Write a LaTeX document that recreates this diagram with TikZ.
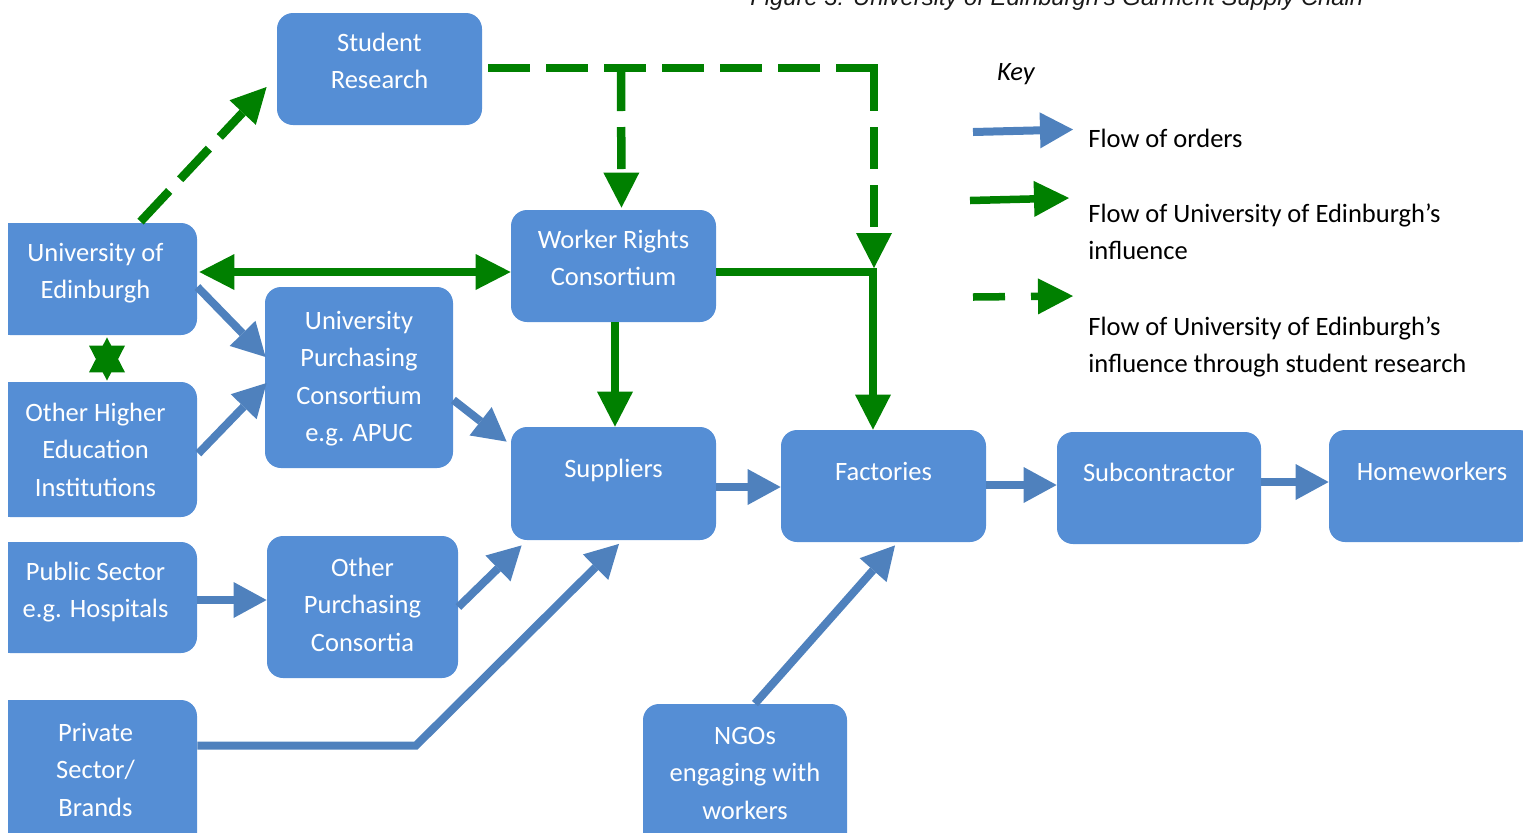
\documentclass[tikz,border=0pt]{standalone}
\usepackage{fontspec}
\setmainfont{Carlito}
\newfontfamily\capfont{Liberation Sans}
\usetikzlibrary{arrows.meta,calc}
\definecolor{boxblue}{HTML}{558ED5}
\definecolor{arrblue}{HTML}{4F81BD}
\definecolor{infgreen}{HTML}{008000}
\newcommand{\mlc}[1]{\begin{tabular}[t]{@{}c@{}}#1\end{tabular}}
\newcommand{\mll}[1]{\begin{tabular}[t]{@{}l@{}}#1\end{tabular}}
\begin{document}
\begin{tikzpicture}[x=0.5pt,y=-0.5pt,
  btip/.tip={Triangle[length=16.5pt,width=18pt,line width=0pt]},
  gtip/.tip={Triangle[length=17.5pt,width=18pt,line width=0pt]},
  box/.style={fill=boxblue, draw=none, rounded corners=8pt, inner sep=0pt},
  lbl/.style={text=white, font=\fontsize{13.25pt}{18.75pt}\selectfont, anchor=base, inner sep=0pt},
  keytxt/.style={text=black, font=\fontsize{13.25pt}{18.75pt}\selectfont, anchor=base west, inner sep=0pt},
  ord/.style={draw=arrblue, line width=4pt, -btip},
  infl/.style={draw=infgreen, line width=3.75pt, -gtip},
  studline/.style={draw=infgreen, line width=4.25pt, dash pattern=on 21pt off 8pt},
  stud/.style={studline, -gtip}]
\useasboundingbox (0,0) rectangle (1523,832);
\clip (8,0) rectangle (1523,832);

% caption
\node[font=\capfont\itshape\fontsize{11.9pt}{14pt}\selectfont, anchor=base west, inner sep=0pt, text=black!90] (cap) at (750,5) {Figure 3: University of Edinburgh’s Garment Supply Chain};

% boxes
\node[box, minimum width=102.5pt, minimum height=56pt] (sr) at (379.5,69) {};
\node[box, minimum width=101.5pt, minimum height=56pt] (uoe) at (95.5,279) {};
\node[box, minimum width=101.5pt, minimum height=67.5pt] (ohe) at (95.5,449.5) {};
\node[box, minimum width=101.5pt, minimum height=55.5pt] (pub) at (95.5,597.5) {};
\node[box, minimum width=101.5pt, minimum height=75pt] (pri) at (95.5,775) {};
\node[box, minimum width=94pt, minimum height=90.5pt] (upc) at (359,377.5) {};
\node[box, minimum width=95.5pt, minimum height=71pt] (opc) at (362.5,607) {};
\node[box, minimum width=102.5pt, minimum height=56pt] (wrc) at (613.5,266) {};
\node[box, minimum width=102.5pt, minimum height=56.5pt] (sup) at (613.5,483.5) {};
\node[box, minimum width=102.5pt, minimum height=56pt] (fac) at (883.5,486) {};
\node[box, minimum width=102pt, minimum height=56pt] (sub) at (1159,488) {};
\node[box, minimum width=103pt, minimum height=56pt] (hom) at (1432,486) {};
\node[box, minimum width=102pt, minimum height=73pt] (ngo) at (745,777) {};

% box texts
\node[lbl] (sr-t) at (379.5,51) {\mlc{Student\\Research}};
\node[lbl] (uoe-t) at (95.5,261) {\mlc{University of\\Edinburgh}};
\node[lbl] (ohe-t) at (95.5,421) {\mlc{Other Higher\\Education\\Institutions}};
\node[lbl] (pub-t) at (95.5,580) {\mlc{Public Sector\\e.g. Hospitals}};
\node[lbl] (pri-t) at (95.5,741) {\mlc{Private\\Sector/\\Brands}};
\node[lbl] (upc-t) at (359,329) {\mlc{University\\Purchasing\\Consortium\\e.g. APUC}};
\node[lbl] (opc-t) at (362.5,576) {\mlc{Other\\Purchasing\\Consortia}};
\node[lbl] (wrc-t) at (613.5,248) {\mlc{Worker Rights\\Consortium}};
\node[lbl] (sup-t) at (613.5,477) {Suppliers};
\node[lbl] (fac-t) at (883.5,480) {Factories};
\node[lbl] (sub-t) at (1159,481) {Subcontractor};
\node[lbl] (hom-t) at (1432,480) {Homeworkers};
\node[lbl] (ngo-t) at (745,744) {\mlc{NGOs\\engaging with\\workers}};

% flow of orders
\coordinate (pbend) at (416,745.5);
\draw[ord] ($(uoe.east)+(0,8)$) -- ($(upc.west)+(1,-20.5)$);
\draw[ord] ($(ohe.east)+(1,4)$) -- ($(upc.west)+(2,5.5)$);
\draw[ord] ($(upc.east)+(0,22.5)$) -- ($(sup.north west)+(-4,15)$);
\draw[ord] (opc.east) -- ($(sup.south west)+(11,5)$);
\draw[ord] ($(pri.east)+(0,-29.5)$) -- (pbend) -- ($(sup.south)+(5.5,3.5)$);
\draw[ord] ($(pub.east)+(0,2.5)$) -- ($(opc.west)+(0,-7)$);
\draw[ord] ($(sup.east)+(0,3.5)$) -- ($(fac.west)+(0,1)$);
\draw[ord] ($(fac.east)+(0,-1)$) -- ($(sub.west)+(0,-3)$);
\draw[ord] ($(sub.east)+(0,-6)$) -- ($(hom.west)+(0,-4)$);
\draw[ord] ($(ngo.north)+(10,0)$) -- ($(fac.south)+(11.5,3)$);

% influence
\coordinate (wcorner) at (873,272);
\draw[infl, gtip-gtip] ($(uoe.east)+(2,-7)$) -- ($(wrc.west)+(0,6)$);
\draw[infl] ($(wrc.south)+(1.5,0)$) -- ($(sup.north)+(1.5,0)$);
\draw[infl] ($(wrc.east)+(0,6)$) -- (wcorner) -- ($(fac.north)+(-10.5,0)$);
\draw[infl, gtip-gtip] ($(uoe.south)+(11.5,2)$) -- ($(ohe.north)+(11.5,-1)$);

% influence through student research
\coordinate (dtr) at (879,68);
\coordinate (db1) at (621,69);
\coordinate (db2) at (874,69);
\coordinate (jn) at (874,268);
\draw[stud] ($(uoe.north)+(45,-1)$) -- ($(sr.west)+(-10,18)$);
\draw[studline] ($(sr.east)+(6,-1)$) -- (dtr);
\draw[stud] (db1) -- ($(wrc.north)+(8,-2)$);
\draw[stud] (db2) -- (jn);

% key
\node[font=\fontsize{13.25pt}{18.75pt}\selectfont\itshape, anchor=base, inner sep=0pt] (key) at (1016,80) {Key};
\coordinate (kb1) at (973,132);
\coordinate (kb2) at (1073,129.5);
\coordinate (kg1) at (970,200.5);
\coordinate (kg2) at (1069,198);
\coordinate (kd1) at (973,297);
\coordinate (kd2) at (1073,296);
\draw[ord] (kb1) -- (kb2);
\draw[infl] (kg1) -- (kg2);
\draw[infl, dash pattern=on 16pt off 13pt] (kd1) -- (kd2);
\node[keytxt] (k1) at (1088,147) {Flow of orders};
\node[keytxt] (k2) at (1088,222) {\mll{Flow of University of Edinburgh’s\\influence}};
\node[keytxt] (k3) at (1088,335) {\mll{Flow of University of Edinburgh’s\\influence through student research}};
\end{tikzpicture}
\end{document}
